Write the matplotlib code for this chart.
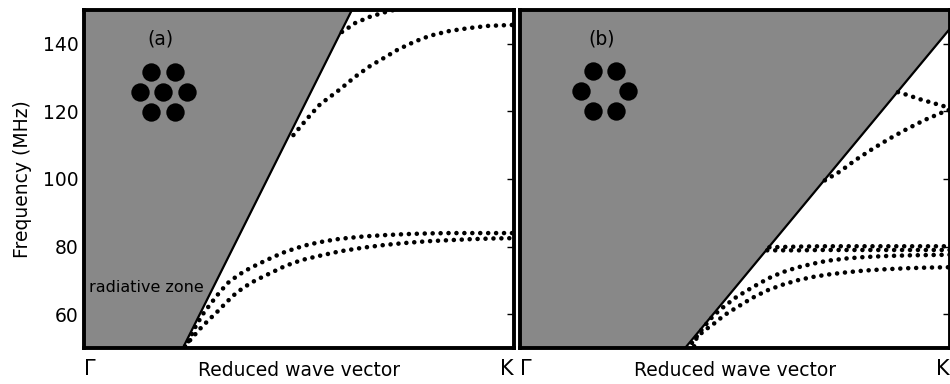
import numpy as np
import matplotlib
matplotlib.use("Agg")
import matplotlib.pyplot as plt

# reduced wave vector (0 = Gamma, 1 = K) and frequency in MHz
light_a_k = [0.23, 0.623]
light_a_f = [50.0, 150.0]

a_band1_k = [0.487, 0.52, 0.549, 0.595, 0.63, 0.665, 0.70, 0.73, 0.77, 0.805, 0.85, 0.898, 0.94, 1.0]
a_band1_f = [113.0, 118.0, 122.1, 126.5, 130.2, 133.4, 136.0, 138.3, 140.7, 142.4, 143.8, 144.7, 145.3, 145.6]

a_band2_k = [0.600, 0.611, 0.630, 0.665, 0.704, 0.74]
a_band2_f = [143.5, 144.4, 146.1, 148.0, 149.5, 150.6]

a_band3_k = [0.243, 0.26, 0.278, 0.297, 0.316, 0.336, 0.355, 0.374, 0.40, 0.421, 0.445, 0.467,
             0.495, 0.522, 0.56, 0.595, 0.65, 0.70, 0.75, 0.80, 0.85, 0.90, 0.95, 1.0]
a_band3_f = [52.0, 56.5, 60.3, 63.5, 66.6, 69.4, 71.2, 72.8, 74.5, 75.8, 77.2, 78.4,
             79.6, 80.6, 81.6, 82.3, 83.0, 83.4, 83.7, 83.9, 84.0, 84.0, 84.0, 84.0]

a_band4_k = [0.235, 0.25, 0.27, 0.29, 0.309, 0.328, 0.347, 0.368, 0.39, 0.413, 0.436, 0.46,
             0.487, 0.515, 0.545, 0.595, 0.65, 0.70, 0.75, 0.80, 0.85, 0.90, 0.95, 1.0]
a_band4_f = [50.5, 52.8, 55.7, 58.3, 60.6, 63.1, 65.5, 67.6, 69.4, 70.9, 72.3, 73.8,
             75.2, 76.3, 77.2, 78.6, 79.7, 80.5, 81.1, 81.6, 81.9, 82.2, 82.4, 82.5]

light_b_k = [0.384, 1.0]
light_b_f = [50.0, 144.5]

b_band1_k = [0.879, 0.90, 0.93, 0.96, 0.984, 1.0]
b_band1_f = [125.7, 124.9, 123.6, 122.5, 121.6, 121.2]

b_band2_k = [0.709, 0.744, 0.78, 0.821, 0.86, 0.90, 0.94, 0.984, 1.0]
b_band2_f = [99.6, 102.2, 105.6, 109.0, 112.0, 114.8, 117.4, 119.8, 120.5]

b_band3_k = [0.58, 0.65, 0.70, 0.75, 0.80, 0.85, 0.90, 0.95, 1.0]
b_band3_f = [79.8, 80.0, 80.1, 80.1, 80.1, 80.1, 80.1, 80.1, 80.1]

b_band4_k = [0.575, 0.65, 0.70, 0.75, 0.80, 0.85, 0.90, 0.95, 1.0]
b_band4_f = [78.9, 78.9, 79.0, 79.0, 79.0, 79.0, 79.0, 79.0, 79.0]

b_band5_k = [0.40, 0.426, 0.45, 0.472, 0.50, 0.528, 0.555, 0.581, 0.61, 0.644, 0.68, 0.714,
             0.76, 0.80, 0.85, 0.90, 0.95, 1.0]
b_band5_f = [51.5, 56.0, 59.6, 62.0, 64.8, 67.0, 69.0, 70.8, 72.4, 73.8, 74.9, 75.8,
             76.5, 76.9, 77.2, 77.4, 77.5, 77.6]

b_band6_k = [0.405, 0.411, 0.43, 0.449, 0.475, 0.504, 0.54, 0.574, 0.61, 0.644, 0.68, 0.714,
             0.76, 0.80, 0.85, 0.90, 0.95, 1.0]
b_band6_f = [50.5, 53.2, 55.3, 57.0, 59.7, 62.0, 64.8, 67.0, 68.7, 70.0, 71.0, 71.7,
             72.4, 72.9, 73.3, 73.6, 73.8, 73.9]

y_ticks = [60, 80, 100, 120, 140]
k_labels = ['Γ', 'K']

# hexagonal cluster icons (offsets in lattice units)
hex7 = [(-0.5, 0.866), (0.5, 0.866), (-1, 0), (0, 0), (1, 0), (-0.5, -0.866), (0.5, -0.866)]
hex6 = [(-0.5, 0.866), (0.5, 0.866), (-1, 0), (1, 0), (-0.5, -0.866), (0.5, -0.866)]

GRAY = '#888888'
FMIN, FMAX = 50, 150


def dotted(ax, k, f):
    ax.plot(k, f, color='black', lw=3.3, linestyle=(0, (0.01, 1.72)),
            dash_capstyle='round', zorder=3, clip_on=True)


def setup_panel(ax, light_k, light_f, bands, letter, icon, icon_xy, show_ylabels):
    ax.set_xlim(0, 1)
    ax.set_ylim(FMIN, FMAX)
    ax.fill_between(np.r_[0, light_k], np.r_[FMIN, light_f], FMAX, color=GRAY,
                    lw=0, zorder=1)
    ax.plot(light_k, light_f, color='black', lw=1.6, zorder=2)
    for k, f in bands:
        dotted(ax, k, f)

    # icon of the rod cluster
    cx, cy = icon_xy
    pts = np.array(icon)
    px = cx + pts[:, 0] * 23.5 / 430
    py = cy + pts[:, 1] * 23.5 / 338
    ax.scatter(px, py, s=175, color='black', transform=ax.transAxes, zorder=4,
               linewidths=0)
    ax.text(cx - 0.007, 0.915, letter, transform=ax.transAxes, ha='center',
            va='center', fontsize=13.5)

    for side in ['left', 'right', 'top', 'bottom']:
        ax.spines[side].set_linewidth(2.8)
        ax.spines[side].set_zorder(5)

    ax.set_yticks(y_ticks)
    ax.tick_params(axis='y', which='both', direction='in', left=False, right=True,
                   length=5, width=1, labelleft=show_ylabels, labelsize=13.5, pad=4)
    ax.set_xticks([0, 1], k_labels)
    ax.tick_params(axis='x', length=0, labelsize=15, pad=8)
    lbls = ax.get_xticklabels()
    lbls[0].set_ha('left')
    lbls[1].set_ha('right')
    ax.set_xlabel('Reduced wave vector', fontsize=13.5, labelpad=-13)


fig = plt.figure(figsize=(9.5, 3.84), dpi=100)
ax1 = fig.add_axes([84 / 950, 36 / 384, 430 / 950, 338 / 384])
ax2 = fig.add_axes([520 / 950, 36 / 384, 430 / 950, 338 / 384])

setup_panel(ax1, light_a_k, light_a_f,
            [(a_band1_k, a_band1_f), (a_band2_k, a_band2_f),
             (a_band3_k, a_band3_f), (a_band4_k, a_band4_f)],
            '(a)', hex7, (0.184, 0.757), True)
setup_panel(ax2, light_b_k, light_b_f,
            [(b_band1_k, b_band1_f), (b_band2_k, b_band2_f), (b_band3_k, b_band3_f),
             (b_band4_k, b_band4_f), (b_band5_k, b_band5_f), (b_band6_k, b_band6_f)],
            '(b)', hex6, (0.1965, 0.760), False)

ax1.set_ylabel('Frequency (MHz)', fontsize=13.5, labelpad=8)
ax1.text(0.012, 0.18, 'radiative zone', transform=ax1.transAxes, fontsize=11.5,
         va='center', ha='left', zorder=4)

fig.savefig('out.png', dpi=100)
